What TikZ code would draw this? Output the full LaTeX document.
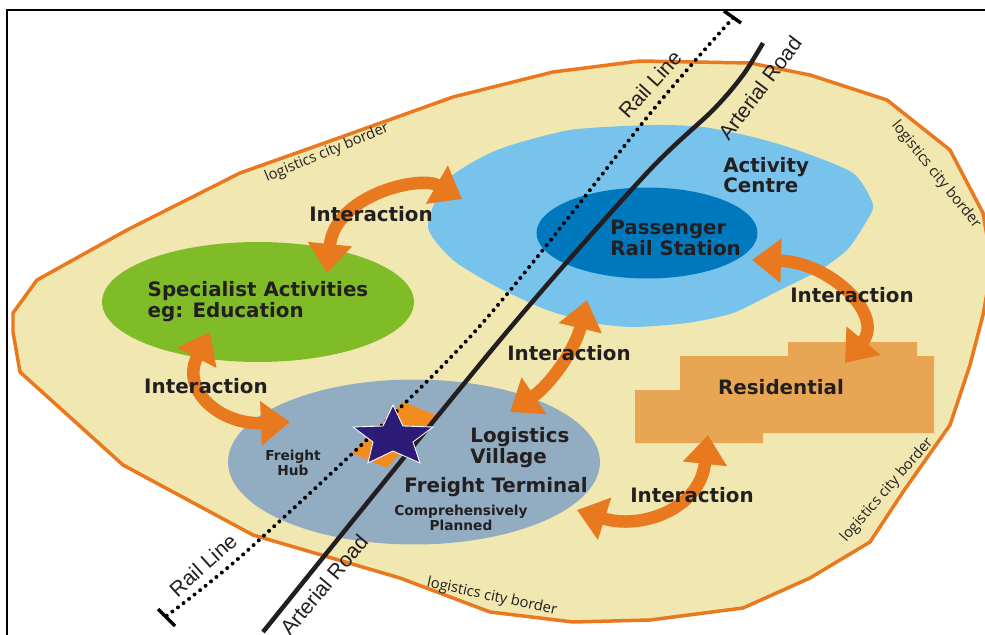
\documentclass[tikz,border=0pt]{standalone}
\usepackage{fontspec}
\setmainfont{DejaVu Sans}
\newfontfamily\mapfont{Liberation Sans}
\newfontfamily\borderfont{Open Sans}
\usetikzlibrary{arrows.meta,shapes.geometric}

\definecolor{cityfill}{HTML}{F0E8B0}
\definecolor{cityedge}{HTML}{E9781F}
\definecolor{actblue}{HTML}{78C3EC}
\definecolor{stnblue}{HTML}{0078BE}
\definecolor{edugreen}{HTML}{80BC28}
\definecolor{logigrey}{HTML}{92ACC2}
\definecolor{resorange}{HTML}{E8A654}
\definecolor{linkorange}{HTML}{E8791E}
\definecolor{hubviolet}{HTML}{2C1C78}
\definecolor{hubpad}{HTML}{F28C1E}
\definecolor{ink}{HTML}{231F20}

\tikzset{
  zone/.style={ellipse, inner sep=0pt},
  zonetext/.style={font=\bfseries\fontsize{11.3}{10.8}\selectfont, text=ink, align=left, inner sep=0pt},
  smalltext/.style={font=\bfseries\fontsize{7.8}{7}\selectfont, text=ink, align=center, inner sep=0pt},
  way/.style={font=\mapfont\fontsize{12}{12}\selectfont, text=ink, inner sep=0pt},
  borderlabel/.style={font=\borderfont\fontsize{8.4}{9}\selectfont, text=ink, inner sep=0pt},
  link/.style={draw=linkorange, line width=0.25cm,
    {Triangle[width=0.85cm,length=0.58cm]}-{Triangle[width=0.85cm,length=0.58cm]}},
}

\begin{document}
\begin{tikzpicture}[x=0.02cm, y=-0.02cm]
  \clip (0,0) rectangle (985,635);
  \fill[white] (0,0) rectangle (985,635);
  \draw[line width=0.04cm] (7,10) rectangle (1000,650);

  % city border
  \filldraw[fill=cityfill, draw=cityedge, line width=0.07cm, line join=round]
    (13,313) -- (37,280) -- (127,230) -- (240,173) -- (333,140) -- (453,97)
    -- (553,72) -- (640,61) -- (750,63) -- (810,75) -- (887,100) -- (950,150)
    -- (983,213) -- (992,265) -- (983,315) -- (970,365) -- (950,425) -- (903,492)
    -- (870,542) -- (810,578) -- (743,608) -- (650,620) -- (573,622) -- (490,612)
    -- (400,578) -- (253,535) -- (123,465) -- (20,372) -- (13,332) -- cycle;

  % activity centre
  \fill[actblue] plot[smooth cycle, tension=0.4] coordinates {
    (428,227) (447,180) (497,150) (570,130) (653,125) (703,127) (753,137)
    (797,150) (853,173) (873,205) (863,227) (847,250) (820,270) (780,290)
    (733,313) (687,323) (633,327) (593,323) (547,310) (497,287) (453,260)};

  \node[zone, fill=stnblue, minimum width=4.42cm, minimum height=1.82cm] (stn) at (647,233) {};
  \node[zone, fill=edugreen, minimum width=5.32cm, minimum height=2.4cm, zonetext] (edu) at (258,302) {Specialist Activities\\eg: Education};
  \node[zone, fill=logigrey, minimum width=7.44cm, minimum height=3.3cm] (logi) at (414,462) {};

  % residential blocks
  \fill[resorange] (635,390) -- (680,390) -- (680,356) -- (788,356) -- (788,342)
    -- (917,342) -- (917,356) -- (934,356) -- (934,433) -- (763,433) -- (763,443)
    -- (635,443) -- cycle;

  \fill[hubpad] (403,402) -- (436,415) -- (387,468) -- (352,453) -- cycle;

  % rail and road
  \draw[line width=0.08cm, line cap=round, dash pattern=on 0pt off 0.14cm]
    plot[smooth, tension=0.5] coordinates {(733,18) (653,110) (470,337) (257,542) (165,617)};
  \draw[line width=0.07cm] (724,11) -- (741,23);
  \draw[line width=0.07cm] (158,609) -- (175,626);
  \draw[ink, line width=0.09cm]
    plot[smooth, tension=0.5] coordinates {(763,43) (743,75) (713,110) (645,175) (500,340) (263,632)};

  \filldraw[fill=hubviolet, draw=white, line width=0.5pt]
    (393,405) -- (403,426) -- (433,427) -- (413,442) -- (420,463) -- (393,451)
    -- (368,463) -- (373,442) -- (353,427) -- (383,426) -- cycle;

  % interaction arrows
  \coordinate (l1a) at (327,273);
  \coordinate (l1b) at (462,199);
  \coordinate (l2a) at (210,332);
  \coordinate (l2b) at (290,422);
  \coordinate (l3a) at (587,300);
  \coordinate (l3b) at (510,412);
  \coordinate (l4a) at (752,260);
  \coordinate (l4b) at (845,363);
  \coordinate (l5a) at (708,435);
  \coordinate (l5b) at (577,510);
  \draw[link] (l1a) .. controls (335,195) and (420,175) .. (l1b);
  \draw[link] (l2a) .. controls (180,390) and (220,425) .. (l2b);
  \draw[link] (l3a) .. controls (575,350) and (550,385) .. (l3b);
  \draw[link] (l4a) .. controls (830,262) and (885,315) .. (l4b);
  \draw[link] (l5a) .. controls (700,510) and (640,530) .. (l5b);

  \node[zonetext, anchor=base] (int1) at (371,222) {Interaction};
  \node[zonetext, anchor=base] (int2) at (852,302) {Interaction};
  \node[zonetext, anchor=base] (int3) at (206,393) {Interaction};
  \node[zonetext, anchor=base] (int4) at (569,360) {Interaction};
  \node[zonetext, anchor=base] (int5) at (692,502) {Interaction};

  \node[zonetext, anchor=west] (act) at (723,175) {Activity\\Centre};
  \node[zonetext, anchor=west] (stnl) at (610,238) {Passenger\\Rail Station};
  \node[zonetext, anchor=west] (logil) at (470,448) {Logistics\\Village};
  \node[zonetext, anchor=base] (freight) at (496,492) {Freight Terminal};
  \node[smalltext] (plan) at (461,518) {Comprehensively\\Planned};
  \node[smalltext] (hub) at (293,463) {Freight\\Hub};
  \node[zonetext, anchor=base] (res) at (781,395) {Residential};

  \node[way, rotate=48] (railn) at (650,84) {Rail Line};
  \node[way, rotate=53] (roadn) at (760,88) {Arterial Road};
  \node[way, rotate=42] (rails) at (203,565) {Rail Line};
  \node[way, rotate=50] (roads) at (324,585) {Arterial Road};

  \node[borderlabel, rotate=22.5] (bord1) at (327,153) {logistics city border};
  \node[borderlabel, rotate=-51] (bord2) at (936,175) {logistics city border};
  \node[borderlabel, rotate=49] (bord3) at (887,490) {logistics city border};
  \node[borderlabel, rotate=-12.4] (bord4) at (492,597) {logistics city border};
\end{tikzpicture}
\end{document}
